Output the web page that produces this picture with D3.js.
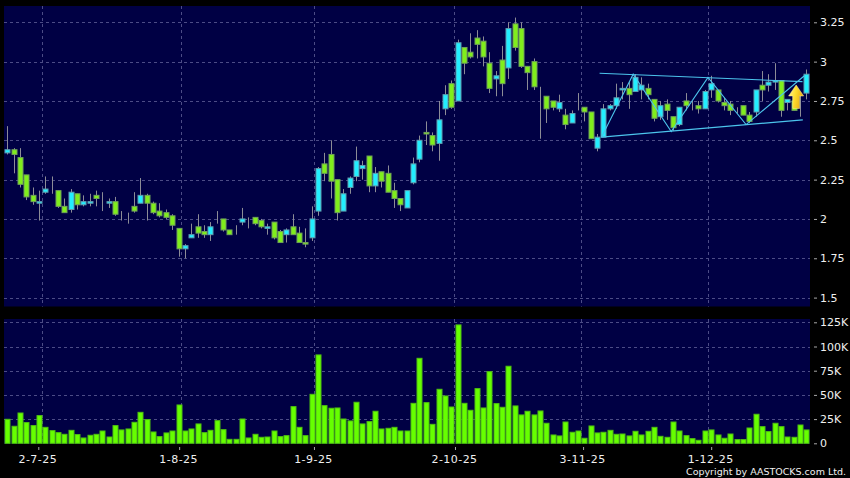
<!DOCTYPE html>
<html><head><meta charset="utf-8">
<script src="https://cdn.jsdelivr.net/npm/d3@7"></script>
<style>html,body{margin:0;padding:0;background:#000}svg{display:block}
text{font-family:"DejaVu Sans",sans-serif;fill:#f0f0f0}</style></head>
<body><svg id="c" width="850" height="478"></svg>
<script>
const opens=[2.42,2.44,2.39,2.28,2.15,2.10,2.17,2.19,2.18,2.08,
2.06,2.16,2.09,2.10,2.15,2.10,2.10,2.11,2.03,2.03,
2.08,2.10,2.15,2.10,2.05,2.04,2.02,1.94,1.81,1.88,
1.95,1.92,1.90,2.02,2.00,1.93,1.94,1.98,2.00,2.01,
1.99,1.94,1.98,1.92,1.90,1.95,1.91,1.85,1.88,2.05,
2.35,2.41,2.25,2.05,2.20,2.27,2.32,2.40,2.21,2.30,
2.29,2.18,2.13,2.07,2.23,2.38,2.55,2.53,2.48,2.70,
2.86,2.75,3.09,3.06,3.15,3.13,2.99,2.89,3.01,2.96,
3.24,3.21,2.97,3.00,2.75,2.78,2.75,2.70,2.66,2.61,
2.71,2.71,2.68,2.45,2.52,2.70,2.72,2.82,2.83,2.81,
2.82,2.83,2.76,2.65,2.73,2.65,2.60,2.75,2.71,2.72,
2.70,2.82,2.82,2.74,2.73,2.69,2.72,2.66,2.68,2.85,
2.85,2.87,2.88,2.74,2.75,2.75,2.80];
const closes=[2.44,2.41,2.22,2.14,2.11,2.11,2.19,2.19,2.08,2.04,
2.17,2.09,2.11,2.11,2.13,2.10,2.11,2.03,2.03,2.03,
2.05,2.15,2.10,2.04,2.02,2.01,1.96,1.81,1.83,1.90,
1.91,1.90,1.95,2.02,1.93,1.90,1.94,2.00,2.00,1.97,
1.95,1.95,1.88,1.85,1.93,1.90,1.85,1.84,2.00,2.32,
2.29,2.24,2.04,2.16,2.26,2.37,2.34,2.21,2.29,2.24,
2.17,2.13,2.09,2.18,2.35,2.50,2.54,2.47,2.63,2.79,
2.71,3.12,2.99,3.03,3.11,3.03,2.83,2.91,2.86,3.21,
3.09,2.97,2.93,2.84,2.75,2.70,2.71,2.74,2.60,2.67,
2.71,2.68,2.51,2.52,2.70,2.72,2.77,2.83,2.79,2.90,
2.85,2.79,2.64,2.72,2.69,2.58,2.71,2.72,2.71,2.70,
2.81,2.86,2.75,2.72,2.69,2.69,2.66,2.62,2.82,2.82,
2.87,2.88,2.69,2.76,2.69,2.75,2.92];
const highs=[2.59,2.45,2.45,2.28,2.20,2.18,2.27,2.27,2.18,2.13,
2.19,2.16,2.15,2.16,2.18,2.17,2.13,2.14,2.05,2.04,
2.17,2.26,2.16,2.11,2.10,2.06,2.03,1.94,1.84,1.97,
2.03,1.96,1.98,2.05,2.00,1.93,1.96,2.07,2.01,2.01,
2.00,1.97,1.98,1.93,1.94,2.03,1.95,1.94,2.08,2.33,
2.42,2.50,2.25,2.19,2.27,2.46,2.37,2.40,2.33,2.30,
2.34,2.23,2.13,2.18,2.39,2.53,2.62,2.55,2.75,2.85,
2.88,3.14,3.09,3.18,3.20,3.16,3.06,2.94,3.10,3.25,
3.28,3.25,2.97,3.02,2.84,2.78,2.75,2.79,2.70,2.69,
2.80,2.71,2.68,2.54,2.73,2.73,2.86,2.87,2.87,2.92,
2.90,2.86,2.76,2.75,2.76,2.65,2.71,2.80,2.75,2.75,
2.82,2.91,2.82,2.77,2.75,2.71,2.72,2.68,2.82,2.94,
2.92,2.99,2.88,2.76,2.75,2.80,2.95];
const lows=[2.41,2.29,2.20,2.12,2.09,1.99,2.16,2.16,2.07,2.04,
2.04,2.06,2.08,2.08,2.08,2.05,2.07,2.02,1.99,1.97,
2.04,2.10,1.99,2.03,2.01,2.00,1.93,1.76,1.75,1.88,
1.88,1.88,1.86,1.97,1.92,1.90,1.90,1.96,1.94,1.96,
1.94,1.90,1.87,1.85,1.85,1.90,1.85,1.82,1.86,2.02,
2.24,2.13,1.99,2.05,2.16,2.24,2.25,2.17,2.17,2.20,
2.17,2.07,2.05,2.07,2.22,2.36,2.47,2.43,2.37,2.66,
2.70,2.75,2.92,3.02,3.02,2.97,2.80,2.78,2.78,2.89,
3.07,2.96,2.82,2.82,2.51,2.61,2.69,2.68,2.57,2.61,
2.69,2.62,2.51,2.43,2.52,2.69,2.70,2.76,2.70,2.81,
2.76,2.76,2.62,2.63,2.63,2.56,2.59,2.69,2.69,2.67,
2.70,2.77,2.74,2.69,2.66,2.67,2.66,2.61,2.65,2.75,
2.81,2.82,2.65,2.69,2.69,2.65,2.76];
const volumes=[24.8,17.6,31.3,21.4,18.3,28.6,16.5,13.1,11,9.3,13.4,9,5.5,8.3,9.3,12.7,6.5,18.3,13.8,14.8,21.7,32,24.5,11.7,6.9,10.7,12.7,39.6,12.7,14.8,20,11,13.4,23.4,14.1,4.1,4.1,25.1,5.5,9.3,6.2,6.5,12.7,6.9,
7.9,37.9,16.5,7.9,50.6,91.3,38.9,36.2,36.5,25.1,23.1,42.4,20,22.4,33.1,14.8,15.5,16.5,12.7,12.7,41.3,87.8,42,19.6,55.8,48.9,37.5,122.3,41.3,34.1,56.5,36.5,74,41,37.2,79.6,38.6,29.3,33.1,29.3,33.4,20.7,8.6,7.6,
22,11.4,12.7,5.2,17.9,10.7,11.4,13.4,9.3,9.6,7.6,12.4,8.6,12.4,16.5,7.2,6.2,22,12.7,7.9,4.8,3.1,12.7,13.8,8.6,5.2,9.6,3.8,3.8,15.8,30,17.2,12.1,20.7,17.2,6.5,6.2,18.9,13.8];
const dateLabels=["2-7-25","1-8-25","1-9-25","2-10-25","3-11-25","1-12-25"];
const dateTickIndex=[4.89,27.1,48.36,70.6,90.8,111];
const dateGridIndex=[5.5,27.4,48.4,70.4,90.5,110.5];
const priceTicks=[1.5,1.75,2,2.25,2.5,2.75,3,3.25];
const volumeTicks=[0,25,50,75,100,125];
const zigzagIndex=[93.7,98.7,104.7,110.5,116.5,125.7];
const zigzagPrice=[2.52,2.92,2.555,2.90,2.60,2.91];
const upperTrendIndex=[93.4,125.4], upperTrendPrice=[2.926,2.873];
const lowerTrendIndex=[93.7,125.45], lowerTrendPrice=[2.52,2.63];
const arrowIndex=124.4, arrowPrice=2.75;

const svg=d3.select("#c");
const x=d3.scaleLinear().domain([0,126]).range([7.3,806.3]);
const y=d3.scaleLinear().domain([1.5,3.25]).range([297.6,22.3]);
const yv=d3.scaleLinear().domain([0,125]).range([443.3,322.3]);
const L=4,R=810;
const panels=[[6,306.5],[319,444]];
const defs=svg.append("defs");
const g=defs.append("linearGradient").attr("id","gold").attr("x1",0).attr("x2",1).attr("y1",0).attr("y2",0.3);
g.append("stop").attr("offset","0").attr("stop-color","#fff3a0");
g.append("stop").attr("offset","0.5").attr("stop-color","#ffdf30");
g.append("stop").attr("offset","1").attr("stop-color","#e8ac12");

svg.append("rect").attr("width",850).attr("height",478).attr("fill","#000");
svg.selectAll("rect.panel").data(panels).join("rect").attr("class","panel")
 .attr("x",L).attr("width",R-L).attr("y",d=>d[0]).attr("height",d=>d[1]-d[0]).attr("fill","#000044");

const gridStyle=s=>s.attr("stroke","#4c4c86").attr("stroke-width",1).attr("stroke-dasharray","3,3").attr("fill","none");
svg.append("g").selectAll("line").data(priceTicks).join("line")
 .attr("x1",L).attr("x2",R).attr("y1",d=>Math.round(y(d))+.5).attr("y2",d=>Math.round(y(d))+.5).call(gridStyle);
svg.append("g").selectAll("line").data(volumeTicks.slice(1)).join("line")
 .attr("x1",L).attr("x2",R).attr("y1",d=>Math.round(yv(d))+.5).attr("y2",d=>Math.round(yv(d))+.5).call(gridStyle);
panels.forEach(p=>{
 svg.append("g").selectAll("line").data(dateGridIndex).join("line")
  .attr("x1",d=>Math.round(x(d))+.5).attr("x2",d=>Math.round(x(d))+.5).attr("y1",p[0]).attr("y2",p[1]).call(gridStyle);
});

// candles
const idx=d3.range(opens.length);
const cg=svg.append("g");
cg.selectAll("line").data(idx).join("line")
 .attr("x1",i=>Math.round(x(i))+.5).attr("x2",i=>Math.round(x(i))+.5)
 .attr("y1",i=>y(highs[i])).attr("y2",i=>y(lows[i])).attr("stroke","#8c8c96").attr("stroke-width",1);
cg.selectAll("rect").data(idx).join("rect")
 .attr("x",i=>Math.round(x(i))-2).attr("width",5)
 .attr("y",i=>y(Math.max(opens[i],closes[i])))
 .attr("height",i=>Math.abs(y(opens[i])-y(closes[i])))
 .attr("fill",i=>closes[i]>opens[i]?"#22eeff":"#80ee1c")
 .attr("stroke",i=>closes[i]==opens[i]?"#8c8c96":closes[i]>opens[i]?"#5f9db0":"#6fa05a").attr("stroke-width",1);

// pattern lines
const ln=d3.line().x(d=>x(d[0])).y(d=>y(d[1]));
const pat=svg.append("g").attr("fill","none").attr("stroke","#4cc4ec").attr("stroke-width",1.1);
pat.append("path").attr("d",ln(d3.zip(upperTrendIndex,upperTrendPrice)));
pat.append("path").attr("d",ln(d3.zip(lowerTrendIndex,lowerTrendPrice)));
pat.append("path").attr("d",ln(d3.zip(zigzagIndex,zigzagPrice)));

// arrow marker
svg.append("path").attr("transform",`translate(${x(arrowIndex)},${y(arrowPrice)})`)
 .attr("d","M0,-16 L7.5,-5 L3.5,-5 L3.5,7.5 L-3.5,7.5 L-3.5,-5 L-7.5,-5 Z")
 .attr("fill","url(#gold)").attr("stroke","#fff2a8").attr("stroke-width",.5);

// volume bars
svg.append("g").selectAll("rect").data(volumes).join("rect")
 .attr("x",(d,i)=>Math.round(x(i))-2).attr("width",5)
 .attr("y",d=>yv(d)).attr("height",d=>yv(0)-yv(d))
 .attr("fill","#66ff00").attr("stroke","#4fc010").attr("stroke-width",1);

// axes
function styleAxis(a){a.select(".domain").remove();a.selectAll("line").attr("stroke","#a8a8a8");
 a.selectAll("text").attr("font-size",11).attr("font-family",'"DejaVu Sans",sans-serif').attr("fill","#f0f0f0");}
svg.append("g").attr("transform","translate(814,0)")
 .call(d3.axisRight(y).tickValues(priceTicks).tickFormat(d3.format("~g")).tickSize(3).tickPadding(3)).call(styleAxis);
svg.append("g").attr("transform","translate(814,0)")
 .call(d3.axisRight(yv).tickValues(volumeTicks).tickFormat(d=>d?d+"K":"0").tickSize(3).tickPadding(3)).call(styleAxis);
svg.append("g").attr("transform","translate(0,447)")
 .call(d3.axisBottom(x).tickValues(dateTickIndex).tickFormat((d,i)=>dateLabels[i]).tickSize(3).tickPadding(5)).call(styleAxis)
 .selectAll("text").attr("letter-spacing",0.45).attr("dx",-1);

svg.append("text").attr("x",846).attr("y",475).attr("text-anchor","end").attr("font-size",9.5).text("Copyright by AASTOCKS.com Ltd.");
</script></body></html>
